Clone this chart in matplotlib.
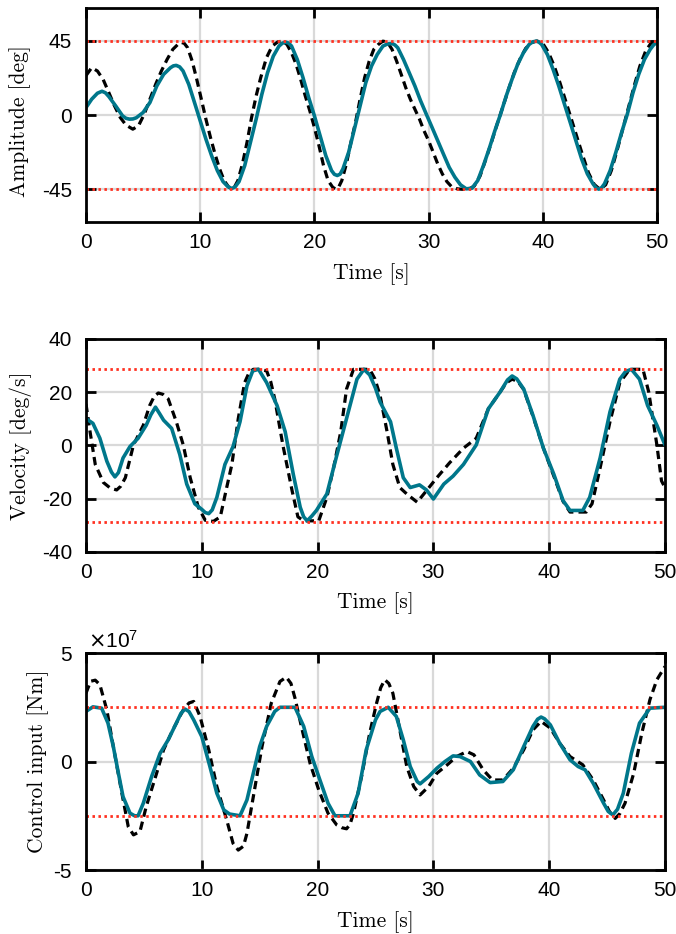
import numpy as np
import matplotlib
matplotlib.use("Agg")
import matplotlib.pyplot as plt

plt.rcParams['font.family'] = ['Liberation Sans', 'DejaVu Sans']
plt.rcParams['axes.unicode_minus'] = False

# ---- data: (time [s], value) ----
# amplitude [deg], dashed black and solid teal
amp_dash_pts = [(0, 24.0), (0.5, 28.8), (1.0, 26.8), (1.5, 21.7), (2.0, 13.7), (2.5, 5.6), (3.0, -1.4),
                (3.5, -6.0), (4.1, -8.5), (4.6, -6.4), (5.1, 0.6), (5.6, 9.7), (6.1, 18.7), (6.6, 26.8),
                (7.1, 33.8), (7.6, 39.9), (8.1, 43.3), (8.35, 44.1), (8.6, 43.6), (8.9, 40.9), (9.3, 32.8),
                (9.7, 21.7), (10.1, 9.7), (10.5, -2.4), (10.9, -13.5), (11.3, -23.6), (11.7, -32.6),
                (12.1, -39.7), (12.5, -43.7), (12.75, -44.6), (13.0, -43.6), (13.3, -39.7), (13.7, -29.6),
                (14.1, -16.5), (14.5, -1.4), (14.9, 11.7), (15.3, 22.8), (15.8, 34.8), (16.3, 41.9),
                (16.8, 44.5), (17.2, 44.9), (17.6, 42.9), (18.0, 37.8), (18.4, 30.8), (18.8, 21.7),
                (19.2, 11.7), (19.6, 2.6), (20.0, -7.4), (20.4, -18.5), (20.8, -30.6), (21.2, -39.7),
                (21.6, -43.7), (21.85, -44.8), (22.1, -44.0), (22.4, -39.7), (22.8, -29.6), (23.2, -16.5),
                (23.6, -4.4), (24.0, 9.7), (24.4, 22.8), (24.8, 32.8), (25.2, 39.9), (25.6, 42.9),
                (26.0, 44.9), (26.4, 44.3), (26.8, 39.9), (27.2, 32.8), (27.6, 24.8), (28.0, 16.7),
                (28.4, 9.7), (28.8, 3.6), (29.2, -2.4), (29.6, -9.5), (30.0, -15.5), (30.4, -22.5),
                (30.8, -29.6), (31.2, -35.6), (31.6, -40.3), (32.0, -43.3), (32.5, -44.7), (33.0, -45.0),
                (33.5, -45.0), (34.0, -43.0), (34.5, -37.0), (35.0, -27.0), (35.5, -16.5), (36.0, -5.5),
                (36.5, 5.0), (37.0, 15.7), (37.5, 25.8), (38.0, 34.0), (38.5, 40.5), (39.0, 44.0),
                (39.5, 45.0), (40.0, 43.5), (40.5, 38.0), (41.0, 29.8), (41.5, 19.7), (42.0, 8.7),
                (42.5, -2.4), (43.0, -13.5), (43.5, -24.6), (44.0, -35.0), (44.5, -42.0), (45.0, -45.0),
                (45.5, -42.3), (46.0, -33.6), (46.5, -21.5), (47.0, -8.5), (47.5, 4.6), (48.0, 17.7),
                (48.5, 29.8), (49.0, 38.8), (49.5, 44.0), (50.0, 45.0)]
amp_pts = [(0, 4.6), (0.5, 9.7), (1.0, 13.3), (1.4, 14.5), (1.7, 13.6), (2.0, 11.3), (2.6, 5.6),
           (3.2, -0.4), (3.5, -1.9), (3.8, -2.4), (4.1, -2.3), (4.4, -1.6), (5.0, 1.6), (5.6, 7.7),
           (6.2, 17.7), (6.8, 24.8), (7.4, 28.8), (7.65, 29.9), (7.9, 30.2), (8.2, 29.3), (8.5, 26.8),
           (9.0, 18.7), (9.5, 7.7), (10.0, -3.4), (10.5, -14.5), (11.0, -24.6), (11.5, -33.6),
           (12.0, -40.3), (12.4, -43.2), (12.75, -44.5), (13.05, -43.6), (13.4, -40.3), (13.9, -30.6),
           (14.4, -16.5), (14.9, -2.4), (15.4, 12.7), (15.9, 25.8), (16.4, 35.8), (16.9, 41.9),
           (17.2, 43.7), (17.5, 44.3), (17.75, 43.7), (18.0, 41.9), (18.5, 33.8), (19.0, 22.8),
           (19.5, 10.7), (20.0, -0.4), (20.5, -12.5), (21.0, -24.6), (21.5, -33.6), (21.75, -35.9),
           (22.0, -36.6), (22.25, -35.8), (22.5, -32.6), (23.0, -22.5), (23.5, -8.5), (24.0, 5.6),
           (24.5, 19.7), (25.0, 29.8), (25.5, 36.8), (26.0, 41.9), (26.4, 43.2), (26.8, 43.5),
           (27.05, 42.6), (27.3, 40.9), (27.8, 33.8), (28.3, 25.8), (28.8, 17.7), (29.3, 8.7),
           (29.8, 0.6), (30.3, -7.4), (30.8, -15.5), (31.3, -23.6), (31.8, -31.6), (32.3, -37.6),
           (32.8, -42.3), (33.3, -44.7), (33.8, -44.3), (34.3, -39.7), (34.8, -30.6), (35.3, -20.5),
           (35.8, -9.5), (36.3, 0.6), (36.8, 11.7), (37.3, 21.7), (37.8, 30.8), (38.3, 37.8),
           (38.8, 42.9), (39.1, 44.4), (39.4, 44.9), (39.65, 44.4), (39.9, 42.9), (40.4, 36.8),
           (40.9, 27.8), (41.4, 17.7), (41.9, 6.6), (42.4, -4.4), (42.9, -15.5), (43.4, -26.6),
           (43.9, -35.6), (44.4, -41.7), (44.65, -44.0), (44.9, -44.9), (45.15, -44.0), (45.4, -41.7),
           (45.9, -33.6), (46.4, -22.5), (46.9, -10.5), (47.4, 0.6), (47.9, 13.7), (48.4, 24.8),
           (48.9, 33.8), (49.4, 39.9), (49.7, 42.6), (50.0, 44.3)]

# velocity [deg/s]
vel_dash_pts = [(0, 15.6), (0.35, 5.2), (0.8, -7.1), (1.5, -13.9), (2.1, -16.0), (2.65, -16.7),
                (3.0, -15.3), (3.4, -12.1), (4.1, 0.2), (4.95, 7.6), (5.5, 15.0), (5.9, 18.5),
                (6.25, 19.7), (6.65, 19.2), (7.1, 17.5), (7.8, 8.9), (8.4, 0.2), (9.0, -12.1),
                (9.7, -23.2), (10.3, -28.1), (11.0, -28.5), (11.6, -26.8), (12.15, -15.8), (12.6, -7.1),
                (13.15, 10.1), (13.7, 23.6), (14.1, 27.5), (14.45, 28.6), (15.0, 28.6), (15.6, 28.0),
                (15.95, 24.0), (16.3, 17.5), (17.0, 0.2), (17.8, -17.0), (18.3, -26.8), (18.8, -28.3),
                (19.3, -28.3), (20.1, -28.3), (20.8, -19.5), (21.4, -8.0), (22.0, 5.2), (22.5, 21.2),
                (23.1, 28.6), (24.5, 28.6), (24.95, 25.0), (25.4, 18.7), (26.0, 5.2), (26.5, -7.1),
                (27.1, -15.8), (27.7, -18.2), (28.6, -21.3), (29.4, -17.0), (30.3, -12.1), (31.4, -6.5),
                (32.6, -1.0), (33.7, 2.7), (34.75, 13.8), (35.75, 20.0), (36.3, 23.5), (36.8, 24.9),
                (37.3, 24.0), (37.8, 21.0), (38.6, 11.0), (39.5, -1.0), (40.4, -11.5), (41.2, -21.0),
                (41.8, -25.0), (43.2, -25.0), (43.7, -21.9), (44.4, -8.4), (45.25, 8.9), (46.1, 23.6),
                (46.95, 28.6), (48.1, 28.6), (48.6, 20.0), (49.3, 0.2), (49.7, -13.3), (50.0, -15.8)]
vel_pts = [(0, 10.1), (0.6, 8.3), (1.2, 2.7), (1.8, -5.9), (2.2, -10.0), (2.5, -11.8), (2.8, -10.2),
           (3.2, -4.7), (3.8, -0.4), (4.5, 2.7), (5.2, 7.6), (5.6, 11.5), (6.0, 14.4), (6.35, 12.0),
           (6.7, 9.5), (7.4, 6.4), (8.1, -3.4), (8.7, -14.5), (9.4, -21.9), (10.0, -24.0),
           (10.3, -25.2), (10.6, -25.6), (10.9, -24.2), (11.3, -19.5), (12.0, -7.1), (12.7, -0.4),
           (13.3, 8.9), (13.9, 22.4), (14.4, 28.0), (14.9, 28.6), (15.6, 23.6), (16.5, 15.0),
           (17.2, 5.2), (17.9, -10.8), (18.5, -23.2), (18.8, -26.8), (19.1, -28.3), (19.5, -26.5),
           (19.9, -24.4), (20.8, -18.2), (21.6, -4.7), (22.5, 10.1), (23.4, 24.9), (24.0, 28.6),
           (24.5, 26.5), (25.0, 21.5), (25.4, 16.3), (25.7, 13.8), (26.3, 8.9), (26.8, -1.0),
           (27.4, -12.1), (28.0, -15.8), (28.8, -14.8), (29.4, -16.7), (30.0, -20.1), (30.9, -14.5),
           (31.7, -11.5), (32.6, -7.1), (33.7, 0.2), (34.75, 13.8), (35.75, 20.0), (36.4, 24.6),
           (36.8, 26.1), (37.2, 25.0), (37.8, 21.2), (38.6, 11.3), (39.5, -1.0), (40.4, -10.8),
           (41.2, -20.7), (41.8, -24.4), (42.9, -24.4), (43.5, -19.5), (44.4, -4.7), (45.25, 12.6),
           (46.1, 24.9), (46.6, 27.8), (47.1, 28.6), (47.8, 24.9), (48.5, 15.0), (49.3, 7.6),
           (50.0, 0.2)]

# control input [x 1e7 Nm]
u_dash_pts = [(0, 3.15), (0.4, 3.7), (0.8, 3.75), (1.2, 3.54), (1.8, 2.38), (2.36, 0.69), (3.1, -1.46),
              (3.65, -3.0), (4.1, -3.38), (4.66, -3.23), (5.2, -2.08), (6.1, -0.54), (6.7, 0.54),
              (7.5, 1.46), (8.4, 2.38), (8.9, 2.7), (9.3, 2.77), (9.85, 2.08), (10.6, 0.54),
              (11.3, -1.15), (12.15, -2.69), (12.7, -3.77), (13.15, -4.08), (13.6, -3.9), (13.9, -3.31),
              (14.45, -1.62), (15.2, 0.69), (16.0, 2.69), (16.75, 3.69), (17.3, 3.89), (17.7, 3.6),
              (18.05, 2.92), (18.6, 1.62), (19.35, -0.08), (20.1, -1.31), (20.9, -2.38), (21.65, -2.92),
              (22.1, -3.05), (22.5, -3.1), (22.8, -2.9), (23.1, -2.38), (23.8, -0.69), (24.5, 1.31),
              (25.1, 2.7), (25.45, 3.4), (25.8, 3.77), (26.15, 3.6), (26.5, 3.15), (27.1, 1.46),
              (27.7, -0.23), (28.3, -1.15), (28.85, -1.54), (29.6, -1.15), (30.3, -0.54), (31.2, -0.15),
              (32.0, 0.23), (32.9, 0.46), (33.5, 0.31), (34.3, -0.38), (35.1, -0.85), (36.0, -0.85),
              (36.9, -0.31), (37.8, 0.54), (38.6, 1.46), (39.3, 1.85), (40.1, 1.54), (40.9, 0.85),
              (41.8, 0.23), (42.9, -0.15), (43.8, -0.85), (44.7, -1.77), (45.2, -2.3), (45.7, -2.62),
              (46.1, -2.4), (46.55, -1.92), (47.3, -0.54), (48.0, 1.31), (48.7, 2.85), (49.3, 3.77),
              (50.0, 4.38)]
u_pts = [(0, 2.31), (0.6, 2.52), (1.35, 2.46), (1.9, 1.77), (2.36, 0.69), (2.8, -0.54), (3.2, -1.62),
         (3.8, -2.38), (4.2, -2.5), (4.5, -2.5), (4.95, -1.92), (5.67, -0.69), (6.4, 0.38), (7.1, 1.0),
         (7.8, 1.77), (8.2, 2.22), (8.55, 2.42), (8.9, 2.3), (9.3, 1.92), (10.0, 1.15), (10.7, -0.23),
         (11.3, -1.46), (11.9, -2.23), (12.4, -2.42), (13.3, -2.5), (13.9, -1.77), (14.45, -0.54),
         (15.0, 0.69), (15.6, 1.62), (16.3, 2.31), (16.75, 2.5), (18.05, 2.5), (18.8, 1.62),
         (19.5, 0.23), (20.2, -0.85), (20.9, -1.92), (21.5, -2.5), (22.8, -2.5), (23.5, -1.46),
         (24.2, 0.54), (25.0, 1.92), (25.4, 2.31), (26.1, 2.5), (26.8, 2.08), (27.4, 1.0),
         (28.0, -0.23), (28.6, -0.92), (28.85, -1.03), (29.6, -0.69), (30.3, -0.31), (31.0, 0.0),
         (31.7, 0.26), (32.3, 0.23), (33.2, 0.0), (34.0, -0.62), (34.9, -0.97), (36.0, -0.92),
         (36.9, -0.38), (37.8, 0.69), (38.6, 1.62), (39.0, 1.95), (39.3, 2.05), (39.6, 1.97),
         (40.1, 1.69), (40.9, 0.85), (41.8, 0.08), (42.5, -0.23), (43.1, -0.38), (43.8, -1.0),
         (44.7, -1.92), (45.1, -2.3), (45.5, -2.46), (45.9, -2.2), (46.4, -1.46), (47.1, 0.38),
         (47.8, 1.77), (48.7, 2.46), (50.0, 2.5)]
u_scale = 1e7

amp_lim = 45
vel_lim = 28.65
u_lim = 2.5e7

xticks = [0, 10, 20, 30, 40, 50]

teal = '#00778b'
red = '#ff3020'
gridc = '#d9d9d9'


def split(pts):
    t, v = zip(*pts)
    return np.array(t), np.array(v)


fig = plt.figure(figsize=(6.76, 9.34), dpi=100)
ax1 = fig.add_axes([0.1272, 0.7620, 0.8447, 0.2294])
ax2 = fig.add_axes([0.1272, 0.4090, 0.8565, 0.2281])
ax3 = fig.add_axes([0.1272, 0.0685, 0.8565, 0.2323])

panels = [
    (ax1, amp_dash_pts, amp_pts, 1.0, amp_lim, (-65, 65), [-45, 0, 45], ['-45', '0', '45'],
     'Amplitude [deg]', 0.474, -0.115),
    (ax2, vel_dash_pts, vel_pts, 1.0, vel_lim, (-40, 40), [-40, -20, 0, 20, 40],
     ['-40', '-20', '0', '20', '40'], 'Velocity [deg/s]', 0.5, -0.113),
    (ax3, u_dash_pts, u_pts, u_scale, u_lim, (-5e7, 5e7), [-5e7, 0, 5e7], ['-5', '0', '5'],
     'Control input [Nm]', 0.5, -0.083),
]

for ax, dpts, spts, sc, lim, ylim, yt, ytl, ylab, ly, lx in panels:
    td, yd = split(dpts)
    ts, ys = split(spts)
    ax.plot(td, yd * sc, color='k', lw=2.3, dashes=(2.6, 1.6),
            dash_capstyle='butt', dash_joinstyle='round', zorder=2)
    ax.plot(ts, ys * sc, color=teal, lw=2.6, solid_joinstyle='round',
            solid_capstyle='round', zorder=2.1)
    for s in (1, -1):
        ax.axhline(s * lim, color=red, lw=2.0, dashes=(0.9, 1.25), zorder=2.3)
    ax.set_xlim(0, 50)
    ax.set_ylim(*ylim)
    ax.set_xticks(xticks)
    ax.set_yticks(yt)
    ax.set_yticklabels(ytl)
    ax.grid(True, color=gridc, lw=1.6, zorder=0)
    ax.set_axisbelow(True)
    for sp in ax.spines.values():
        sp.set_linewidth(2.0)
    ax.tick_params(direction='in', length=7, width=2.0, top=True, right=True,
                   labelsize=15, colors='k')
    ax.tick_params(axis='x', pad=8)
    ax.tick_params(axis='y', pad=10)
    ax.set_xlabel('Time [s]', fontfamily='cmr10', fontsize=15.5)
    ax.xaxis.set_label_coords(0.5, -0.24)
    ax.xaxis.label.set_verticalalignment('center')
    ax.set_ylabel(ylab, fontfamily='cmr10', fontsize=15.5)
    ax.yaxis.set_label_coords(lx, ly)
    ax.yaxis.label.set_verticalalignment('center')

ax3.text(0.004, 1.025, r'$\times\mathdefault{10^{7}}$', transform=ax3.transAxes,
         ha='left', va='baseline', fontsize=15)

fig.savefig('out.png', dpi=100)
